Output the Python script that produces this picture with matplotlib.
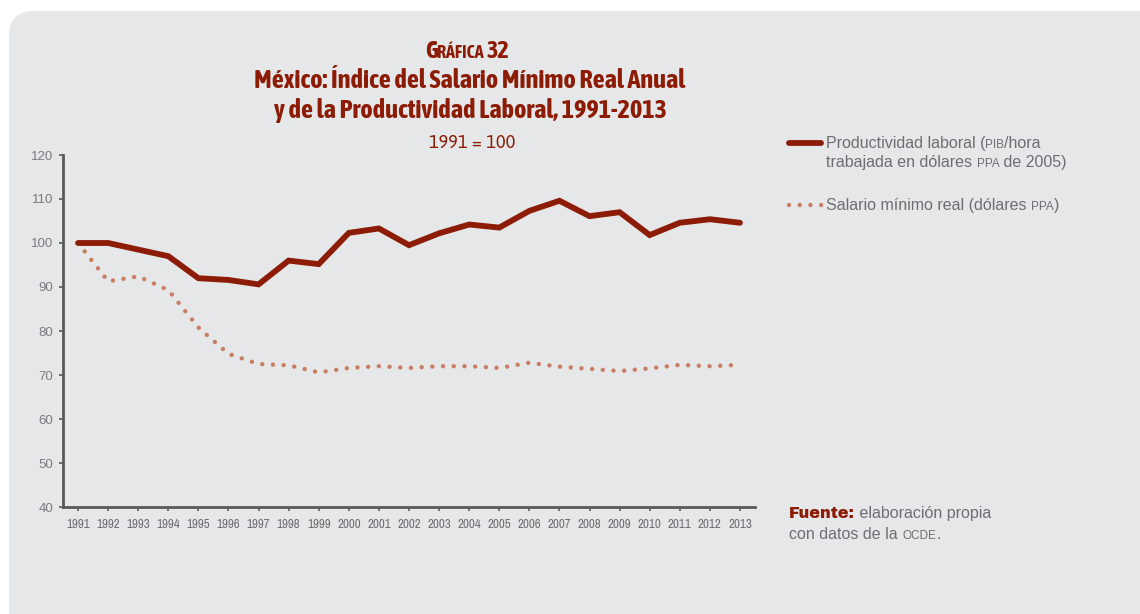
import matplotlib
matplotlib.use("Agg")
import matplotlib.pyplot as plt
from matplotlib.patches import FancyBboxPatch

years = list(range(1991, 2014))
productividad = [100.0, 100.0, 98.5, 97.0, 92.0, 91.6, 90.6, 96.0, 95.2, 102.3, 103.3, 99.5,
                 102.2, 104.2, 103.5, 107.3, 109.6, 106.1, 107.0, 101.8, 104.6, 105.4, 104.6]
salario = [100.0, 91.3, 92.4, 89.3, 80.8, 74.8, 72.5, 72.2, 70.6, 71.6, 72.0, 71.6,
           72.0, 72.0, 71.6, 72.8, 71.9, 71.4, 70.9, 71.5, 72.3, 72.0, 72.3]
y_ticks = [40, 50, 60, 70, 80, 90, 100, 110, 120]

W, H = 1140, 614
dark_red = "#8c1c06"
dot_color = "#c97d62"
grey_text = "#6d6e71"
bg = "#e6e7e8"

sans = "Liberation Sans"
title_font = ["Asap Condensed", "DejaVu Sans"]
narrow = ["Archivo Narrow", "Liberation Sans"]

fig = plt.figure(figsize=(W / 100, H / 100), dpi=100, facecolor="white")
fig.patches.append(FancyBboxPatch((9 / W, -40 / H), 1200 / W, (614 - 9 + 38) / H,
                                  boxstyle="round,pad=0,rounding_size=0.022",
                                  transform=fig.transFigure, facecolor=bg,
                                  edgecolor="none", zorder=-5, mutation_aspect=W / H))

ax = fig.add_axes([63 / W, (H - 507) / H, (755 - 63) / W, (507 - 155) / H])
ax.set_facecolor("none")
ax.plot(years, productividad, color=dark_red, lw=4.2, solid_capstyle="round",
        solid_joinstyle="miter", zorder=3)
ax.plot(years, salario, color=dot_color, lw=3.2, linestyle=(0, (0.01, 2.4)),
        dash_capstyle="round", zorder=2)
ax.set_xlim(1990.5, 2013.5)
ax.set_ylim(40, 120)
ax.set_yticks(y_ticks)
ax.set_xticks(years)
ax.set_xticklabels([str(y) for y in years], family=narrow, fontsize=9.3, color=grey_text)
ax.set_yticklabels([str(v) for v in y_ticks], family=sans, fontsize=9.5, color="#7a7b7e")
for s in ["top", "right"]:
    ax.spines[s].set_visible(False)
for s in ["left", "bottom"]:
    ax.spines[s].set_color("#58595b")
    ax.spines[s].set_linewidth(2)
ax.tick_params(axis="both", direction="out", length=3, width=1.2, color="#58595b")
ax.tick_params(axis="y", pad=4)
ax.tick_params(axis="x", pad=6)

renderer = fig.canvas.get_renderer()


def rich_line(x, y, parts, center=False, stretch="normal"):
    # parts: (text, size, color, weight, family); x, y in pixels, y is the baseline from top
    arts = []
    for txt, size, color, weight, fam in parts:
        t = fig.text(0, 0, txt, fontsize=size, color=color, fontweight=weight,
                     family=fam, va="baseline", ha="left", fontstretch=stretch,
                     fontstyle="normal")
        arts.append(t)
    widths = [a.get_window_extent(renderer).width for a in arts]
    total = sum(widths)
    cx = x - total / 2 if center else x
    for a, w in zip(arts, widths):
        a.set_position((cx / W, (H - y) / H))
        cx += w


# title block
rich_line(467, 58, [("G", 17.5, dark_red, "bold", title_font),
                    ("RÁFICA ", 13, dark_red, "bold", title_font),
                    ("32", 17.5, dark_red, "bold", title_font)], center=True, stretch="condensed")
rich_line(470, 88, [("México: Índice del Salario Mínimo Real Anual", 19, dark_red, "bold",
                     title_font)], center=True, stretch="condensed")
rich_line(470, 118, [("y de la Productividad Laboral, 1991-2013", 19, dark_red, "bold",
                      title_font)], center=True, stretch="condensed")
rich_line(472, 148, [("1991 = 100", 13, dark_red, "normal", ["Asap", "DejaVu Sans"])], center=True)

# legend
leg = fig.add_axes([780 / W, 0, 50 / W, 1])
leg.set_xlim(780, 830)
leg.set_ylim(H, 0)
leg.axis("off")
leg.plot([789, 821], [143, 143], color=dark_red, lw=4.2, solid_capstyle="round")
leg.plot([789, 823], [205, 205], color=dot_color, lw=3.2, linestyle=(0, (0.01, 2.4)),
         dash_capstyle="round")

fs = 11.5
sc = 8.5
rich_line(826, 148, [("Productividad laboral (", fs, grey_text, "normal", sans),
                     ("PIB", sc, grey_text, "normal", sans),
                     ("/hora", fs, grey_text, "normal", sans)])
rich_line(826, 167, [("trabajada en dólares ", fs, grey_text, "normal", sans),
                     ("PPA", sc, grey_text, "normal", sans),
                     (" de 2005)", fs, grey_text, "normal", sans)])
rich_line(826, 210, [("Salario mínimo real (dólares ", fs, grey_text, "normal", sans),
                     ("PPA", sc, grey_text, "normal", sans),
                     (")", fs, grey_text, "normal", sans)])

# source note
rich_line(789, 518, [("Fuente:", fs, dark_red, "heavy", ["Archivo Black", "Asap Black", sans]),
                     (" elaboración propia", fs, grey_text, "normal", sans)])
rich_line(789, 539, [("con datos de la ", fs, grey_text, "normal", sans),
                     ("OCDE", sc, grey_text, "normal", sans),
                     (".", fs, grey_text, "normal", sans)])

fig.savefig("out.png", dpi=100, facecolor="white")
